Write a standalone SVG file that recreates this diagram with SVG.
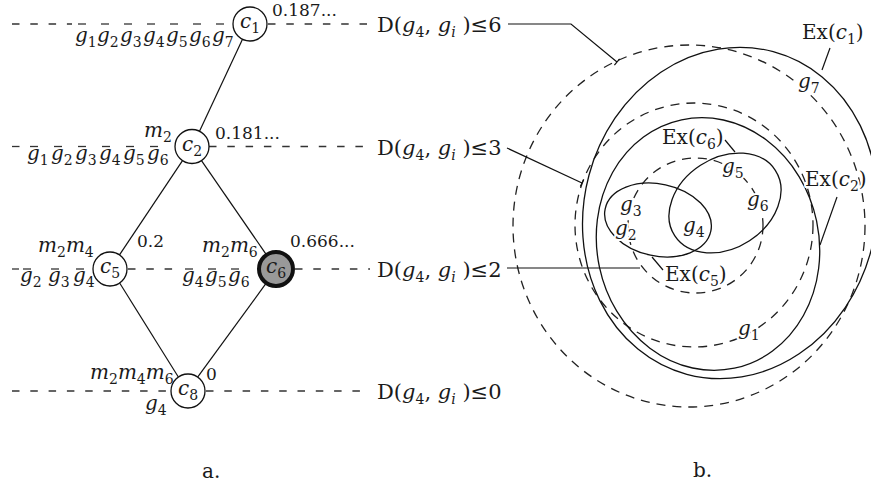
<svg xmlns="http://www.w3.org/2000/svg" width="871" height="489" viewBox="0 0 871 489">
<style>
.t{font-family:"DejaVu Serif","Liberation Serif",serif;font-size:20px;fill:#1a1a1a}
.i{font-style:italic}
.s{font-size:14px}
.n{font-size:17px}
.d{font-size:21px}
.dash{stroke:#333;stroke-width:1.3;stroke-dasharray:7.5 10.8;fill:none}
.bar{stroke:#333;stroke-width:1.3}
.edge{stroke:#111;stroke-width:1.2;fill:none}
.node{fill:#fff;stroke:#111;stroke-width:1.3}
.ptr{stroke:#111;stroke-width:1.2;fill:none}
.sol{stroke:#111;stroke-width:1.3;fill:none}
.dsh{stroke:#222;stroke-width:1.3;fill:none;stroke-dasharray:9 7}
.halo{paint-order:stroke;stroke:#fff;stroke-width:4px;stroke-linejoin:round}
</style>

<!-- level lines -->
<g id="levels">
  <line class="dash" x1="12" y1="24" x2="72" y2="24"/>
  <line class="dash" x1="268" y1="24" x2="370" y2="24"/>
  <line class="dash" x1="12" y1="146.5" x2="24" y2="146.5"/>
  <line class="dash" x1="209" y1="146.5" x2="370" y2="146.5"/>
  <line class="dash" x1="12" y1="269" x2="19" y2="269"/>
  <line class="dash" x1="128" y1="269" x2="182" y2="269"/>
  <line class="dash" x1="295" y1="269" x2="370" y2="269"/>
  <line class="dash" x1="12" y1="391" x2="171" y2="391"/>
  <line class="dash" x1="206" y1="391" x2="370" y2="391"/>
</g>

<!-- connectors -->
<g id="connectors">
  <line class="edge" x1="242.5" y1="39.3" x2="199.5" y2="131.3"/>
  <line class="edge" x1="182.5" y1="160.6" x2="119.5" y2="254.9"/>
  <line class="edge" x1="201.5" y1="160.6" x2="266.5" y2="254.9"/>
  <line class="edge" x1="119.8" y1="283.2" x2="178.2" y2="376.8"/>
  <line class="edge" x1="266.2" y1="283.2" x2="197.8" y2="376.8"/>
</g>

<g id="c1">
  <circle class="node" cx="250" cy="24" r="17"/>
  <text class="t" x="240" y="28"><tspan class="i">c</tspan><tspan class="s" dy="5">1</tspan></text>
  <text class="t" y="42"><tspan class="i" x="75">g</tspan><tspan class="s" dy="5">1</tspan><tspan class="i" x="97" dy="-5">g</tspan><tspan class="s" dy="5">2</tspan><tspan class="i" x="120" dy="-5">g</tspan><tspan class="s" dy="5">3</tspan><tspan class="i" x="143" dy="-5">g</tspan><tspan class="s" dy="5">4</tspan><tspan class="i" x="166" dy="-5">g</tspan><tspan class="s" dy="5">5</tspan><tspan class="i" x="189" dy="-5">g</tspan><tspan class="s" dy="5">6</tspan><tspan class="i" x="212" dy="-5">g</tspan><tspan class="s" dy="5">7</tspan></text>
  <g class="bar">
    <line x1="78" y1="24" x2="86" y2="24"/><line x1="101" y1="24" x2="109" y2="24"/><line x1="124" y1="24" x2="132" y2="24"/><line x1="147" y1="24" x2="155" y2="24"/><line x1="170" y1="24" x2="178" y2="24"/><line x1="193" y1="24" x2="201" y2="24"/><line x1="216" y1="24" x2="224" y2="24"/>
  </g>
  <text class="t n" x="272" y="16">0.187...</text>
</g>

<g id="c2">
  <circle class="node" cx="192" cy="146.5" r="17"/>
  <text class="t" x="182" y="150.5"><tspan class="i">c</tspan><tspan class="s" dy="5">2</tspan></text>
  <text class="t" x="144" y="137"><tspan class="i">m</tspan><tspan class="s" dy="5">2</tspan></text>
  <text class="t" y="160"><tspan class="i" x="27">g</tspan><tspan class="s" dy="5">1</tspan><tspan class="i" x="51" dy="-5">g</tspan><tspan class="s" dy="5">2</tspan><tspan class="i" x="75" dy="-5">g</tspan><tspan class="s" dy="5">3</tspan><tspan class="i" x="99" dy="-5">g</tspan><tspan class="s" dy="5">4</tspan><tspan class="i" x="123" dy="-5">g</tspan><tspan class="s" dy="5">5</tspan><tspan class="i" x="147" dy="-5">g</tspan><tspan class="s" dy="5">6</tspan></text>
  <g class="bar">
    <line x1="30" y1="146.5" x2="38" y2="146.5"/><line x1="54" y1="146.5" x2="62" y2="146.5"/><line x1="78" y1="146.5" x2="86" y2="146.5"/><line x1="102" y1="146.5" x2="110" y2="146.5"/><line x1="126" y1="146.5" x2="134" y2="146.5"/><line x1="150" y1="146.5" x2="158" y2="146.5"/>
  </g>
  <text class="t n" x="215" y="139">0.181...</text>
</g>

<g id="c5">
  <circle class="node" cx="110" cy="269" r="17"/>
  <text class="t" x="100" y="273"><tspan class="i">c</tspan><tspan class="s" dy="5">5</tspan></text>
  <text class="t" x="38" y="252"><tspan class="i">m</tspan><tspan class="s" dy="5">2</tspan><tspan class="i" dy="-5">m</tspan><tspan class="s" dy="5">4</tspan></text>
  <text class="t" y="282"><tspan class="i" x="20">g</tspan><tspan class="s" dy="5">2</tspan><tspan class="i" x="48" dy="-5">g</tspan><tspan class="s" dy="5">3</tspan><tspan class="i" x="73" dy="-5">g</tspan><tspan class="s" dy="5">4</tspan></text>
  <g class="bar">
    <line x1="23" y1="269" x2="31" y2="269"/><line x1="51" y1="269" x2="59" y2="269"/><line x1="76" y1="269" x2="84" y2="269"/>
  </g>
  <text class="t n" x="137" y="247">0.2</text>
</g>

<g id="c6">
  <circle cx="276" cy="269" r="17" fill="#999" stroke="#111" stroke-width="4"/>
  <text class="t" x="266" y="273"><tspan class="i">c</tspan><tspan class="s" dy="5">6</tspan></text>
  <text class="t" x="202" y="252"><tspan class="i">m</tspan><tspan class="s" dy="5">2</tspan><tspan class="i" dy="-5">m</tspan><tspan class="s" dy="5">6</tspan></text>
  <text class="t" y="282"><tspan class="i" x="182">g</tspan><tspan class="s" dy="5">4</tspan><tspan class="i" x="205" dy="-5">g</tspan><tspan class="s" dy="5">5</tspan><tspan class="i" x="228" dy="-5">g</tspan><tspan class="s" dy="5">6</tspan></text>
  <g class="bar">
    <line x1="185" y1="269" x2="193" y2="269"/><line x1="208" y1="269" x2="216" y2="269"/><line x1="231" y1="269" x2="239" y2="269"/>
  </g>
  <text class="t n" x="290" y="247">0.666...</text>
</g>

<g id="c8">
  <circle class="node" cx="188" cy="391" r="17"/>
  <text class="t" x="178" y="395"><tspan class="i">c</tspan><tspan class="s" dy="5">8</tspan></text>
  <text class="t" x="90" y="379"><tspan class="i">m</tspan><tspan class="s" dy="5">2</tspan><tspan class="i" dy="-5">m</tspan><tspan class="s" dy="5">4</tspan><tspan class="i" dy="-5">m</tspan><tspan class="s" dy="5">6</tspan></text>
  <text class="t" x="145" y="410"><tspan class="i">g</tspan><tspan class="s" dy="5">4</tspan></text>
  <text class="t n" x="206" y="380">0</text>
</g>

<g id="levelLabels">
  <text class="t d" x="377" y="32">D(<tspan class="i">g</tspan><tspan class="s" dy="5">4</tspan><tspan dy="-5">, </tspan><tspan class="i">g</tspan><tspan class="s i" dy="5">i</tspan><tspan dy="-5"> )≤6</tspan></text>
  <text class="t d" x="377" y="154.5">D(<tspan class="i">g</tspan><tspan class="s" dy="5">4</tspan><tspan dy="-5">, </tspan><tspan class="i">g</tspan><tspan class="s i" dy="5">i</tspan><tspan dy="-5"> )≤3</tspan></text>
  <text class="t d" x="377" y="277">D(<tspan class="i">g</tspan><tspan class="s" dy="5">4</tspan><tspan dy="-5">, </tspan><tspan class="i">g</tspan><tspan class="s i" dy="5">i</tspan><tspan dy="-5"> )≤2</tspan></text>
  <text class="t d" x="377" y="399">D(<tspan class="i">g</tspan><tspan class="s" dy="5">4</tspan><tspan dy="-5">, </tspan><tspan class="i">g</tspan><tspan class="s i" dy="5">i</tspan><tspan dy="-5"> )≤0</tspan></text>
</g>

<!-- panel b -->
<g id="panelB">
  <ellipse class="dsh" cx="689" cy="226" rx="176" ry="181"/>
  <ellipse class="dsh" cx="694" cy="225" rx="119" ry="122"/>
  <circle class="dsh" cx="695.5" cy="225.5" r="67.5"/>
  <ellipse class="sol" cx="730" cy="213" rx="146" ry="167" transform="rotate(15 730 213)"/>
  <ellipse class="sol" cx="708" cy="244" rx="111" ry="127" transform="rotate(-12 708 244)"/>
  <ellipse class="sol" cx="658" cy="220" rx="54" ry="36" transform="rotate(12 658 220)"/>
  <ellipse class="sol" cx="725" cy="203" rx="60" ry="45" transform="rotate(-33 725 203)"/>

  <polyline class="ptr" points="508,24 571,24 617,62"/>
  <line class="ptr" x1="614.4" y1="65.1" x2="619.6" y2="58.9"/>
  <line class="ptr" x1="507" y1="148" x2="582" y2="183"/>
  <line class="ptr" x1="580.3" y1="186.6" x2="583.7" y2="179.4"/>
  <line class="ptr" x1="507" y1="268" x2="640" y2="268"/>
  <line class="ptr" x1="830" y1="48" x2="822" y2="70"/>
  <line class="ptr" x1="725" y1="140" x2="735" y2="152"/>
  <line class="ptr" x1="837" y1="197" x2="820" y2="245"/>
  <line class="ptr" x1="663" y1="270" x2="652" y2="257"/>

  <text class="t halo" x="802" y="39">Ex(<tspan class="i">c</tspan><tspan class="s" dy="5">1</tspan><tspan dy="-5">)</tspan></text>
  <text class="t halo" x="798" y="88"><tspan class="i">g</tspan><tspan class="s" dy="5">7</tspan></text>
  <text class="t halo" x="662" y="144">Ex(<tspan class="i">c</tspan><tspan class="s" dy="5">6</tspan><tspan dy="-5">)</tspan></text>
  <text class="t halo" x="722" y="173"><tspan class="i">g</tspan><tspan class="s" dy="5">5</tspan></text>
  <text class="t halo" x="747" y="206"><tspan class="i">g</tspan><tspan class="s" dy="5">6</tspan></text>
  <text class="t halo" x="805" y="186">Ex(<tspan class="i">c</tspan><tspan class="s" dy="5">2</tspan><tspan dy="-5">)</tspan></text>
  <text class="t halo" x="620" y="211"><tspan class="i">g</tspan><tspan class="s" dy="5">3</tspan></text>
  <text class="t halo" x="615" y="235"><tspan class="i">g</tspan><tspan class="s" dy="5">2</tspan></text>
  <text class="t halo" x="683" y="232"><tspan class="i">g</tspan><tspan class="s" dy="5">4</tspan></text>
  <text class="t halo" x="665" y="281">Ex(<tspan class="i">c</tspan><tspan class="s" dy="5">5</tspan><tspan dy="-5">)</tspan></text>
  <text class="t halo" x="738" y="335"><tspan class="i">g</tspan><tspan class="s" dy="5">1</tspan></text>
</g>

<text class="t" x="202" y="478">a.</text>
<text class="t" x="693" y="477">b.</text>
</svg>
